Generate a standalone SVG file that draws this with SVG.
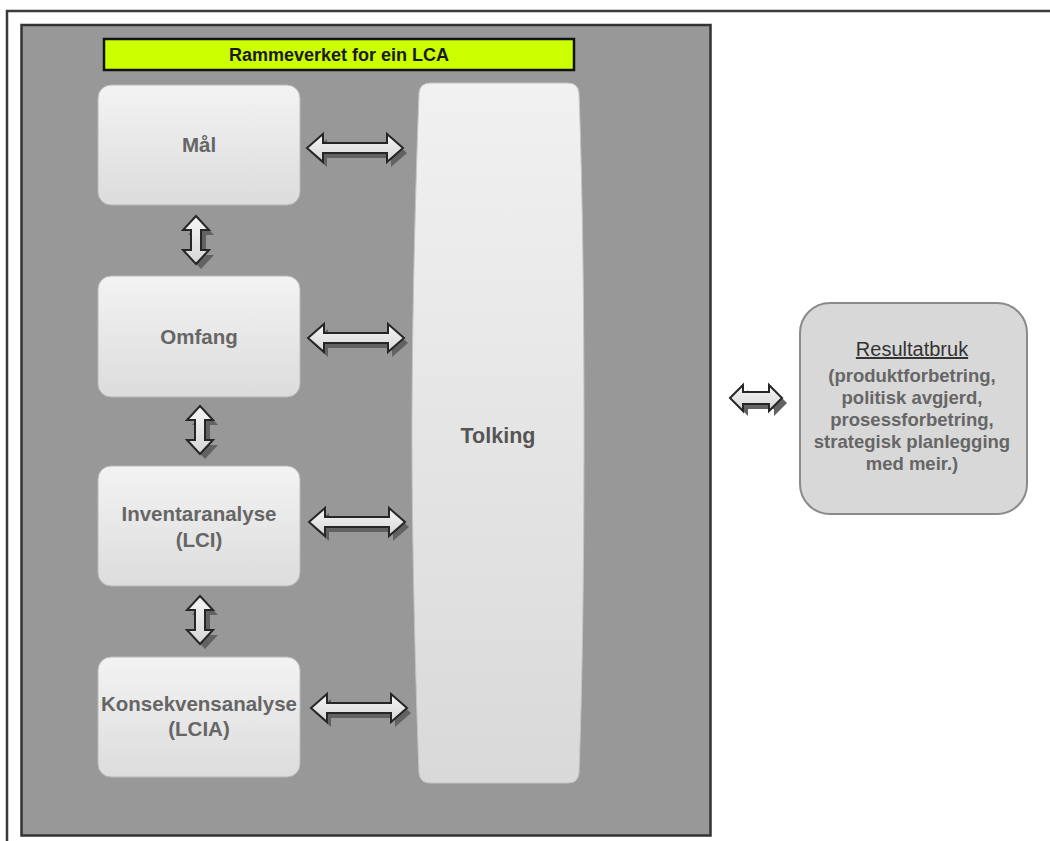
<svg xmlns="http://www.w3.org/2000/svg" xmlns:xlink="http://www.w3.org/1999/xlink" width="1050" height="841" viewBox="0 0 1050 841">
<style>
.frame{fill:none;stroke:#3a3a3a;stroke-width:2.5}
.box{fill:url(#boxg);stroke:#b8b8b8;stroke-width:1}
.lbl{font-family:"Liberation Sans",Arial,sans-serif;font-weight:bold;font-size:20.5px;fill:#666;text-anchor:middle}
.ar{fill:url(#arg);stroke:#262626;stroke-width:2;stroke-linejoin:miter}
.sh{fill:#626262}
.res{font-family:"Liberation Sans",Arial,sans-serif;text-anchor:middle}
</style>
<defs>
<linearGradient id="boxg" x1="0" y1="0" x2="0" y2="1">
<stop offset="0" stop-color="#f3f3f3"/><stop offset="1" stop-color="#dcdcdc"/>
</linearGradient>
<linearGradient id="tolg" x1="0" y1="0" x2="0" y2="1">
<stop offset="0" stop-color="#f1f1f1"/><stop offset="1" stop-color="#d9d9d9"/>
</linearGradient>
<linearGradient id="arg" x1="0" y1="0" x2="0" y2="1">
<stop offset="0" stop-color="#f6f6f6"/><stop offset="1" stop-color="#d6d6d6"/>
</linearGradient>
<g id="ha">
<polygon class="sh" transform="translate(4,5)" points="0,0 16,-14 16,-5 80,-5 80,-14 96,0 80,14 80,5 16,5 16,14"/>
<polygon class="ar" points="0,0 16,-14 16,-5 80,-5 80,-14 96,0 80,14 80,5 16,5 16,14"/>
</g>
<g id="va">
<polygon class="sh" transform="translate(5,5)" points="0,0 13,14 5,14 5,34 13,34 0,48 -13,34 -5,34 -5,14 -13,14"/>
<polygon class="ar" points="0,0 13,14 5,14 5,34 13,34 0,48 -13,34 -5,34 -5,14 -13,14"/>
</g>
<g id="sa">
<polygon class="sh" transform="translate(5,5)" points="0,0 13,-13 13,-6 39,-6 39,-13 52,0 39,13 39,6 13,6 13,13"/>
<polygon class="ar" points="0,0 13,-13 13,-6 39,-6 39,-13 52,0 39,13 39,6 13,6 13,13"/>
</g>
</defs>
<rect width="1050" height="841" fill="#ffffff"/>
<path class="frame" d="M1052,11 L7,11 L7,843"/>
<g id="panel">
<rect x="21.5" y="25" width="689" height="810.5" fill="#989898" stroke="#333" stroke-width="2.5"/>
</g>
<g id="title">
<rect x="104" y="39" width="470" height="31" fill="#ccff00" stroke="#111" stroke-width="2.5"/>
<text x="339" y="61" font-family="'Liberation Sans',Arial,sans-serif" font-weight="bold" font-size="18" fill="#1a1a1a" text-anchor="middle">Rammeverket for ein LCA</text>
</g>
<g id="maal">
<rect class="box" x="98" y="85" width="202" height="120" rx="13"/>
<text class="lbl" x="199" y="152">Mål</text>
</g>
<g id="omfang">
<rect class="box" x="98" y="276" width="202" height="121" rx="13"/>
<text class="lbl" x="199" y="344">Omfang</text>
</g>
<g id="inventar">
<rect class="box" x="98" y="466" width="202" height="120" rx="13"/>
<text class="lbl" x="199" y="521">Inventaranalyse</text>
<text class="lbl" x="199" y="547">(LCI)</text>
</g>
<g id="konsekvens">
<rect class="box" x="98" y="657" width="202" height="120" rx="13"/>
<text class="lbl" x="199" y="711">Konsekvensanalyse</text>
<text class="lbl" x="199" y="736">(LCIA)</text>
</g>
<g id="tolking">
<path d="M430,83 L568,83 Q578,83 579,93 C583,200 584,330 584,433 C584,536 583,666 579,773 Q578,783 568,783 L430,783 Q420,783 419,773 C415,666 412,536 412,433 C412,330 415,200 419,93 Q420,83 430,83 Z" fill="url(#tolg)" stroke="#c4c4c4" stroke-width="1"/>
<text x="498" y="443" font-family="'Liberation Sans',Arial,sans-serif" font-weight="bold" font-size="21.5" fill="#555" text-anchor="middle">Tolking</text>
</g>
<g id="resultatbruk">
<rect x="800" y="303" width="227" height="211" rx="30" fill="#d8d8d8" stroke="#8a8a8a" stroke-width="2"/>
<text class="res" x="912" y="356" font-size="20" fill="#333" text-decoration="underline">Resultatbruk</text>
<g class="res" font-weight="bold" font-size="18.5" fill="#666">
<text x="912" y="382">(produktforbetring,</text>
<text x="912" y="404">politisk avgjerd,</text>
<text x="912" y="426">prosessforbetring,</text>
<text x="912" y="448">strategisk planlegging</text>
<text x="912" y="470">med meir.)</text>
</g>
</g>
<g id="connectors">
<use xlink:href="#ha" x="307" y="148"/>
<use xlink:href="#ha" x="308" y="338"/>
<use xlink:href="#ha" x="309" y="522"/>
<use xlink:href="#ha" x="311" y="708"/>
<use xlink:href="#va" x="196" y="216"/>
<use xlink:href="#va" x="200" y="406"/>
<use xlink:href="#va" x="200" y="596"/>
<use xlink:href="#sa" x="730" y="398"/>
</g>
</svg>
